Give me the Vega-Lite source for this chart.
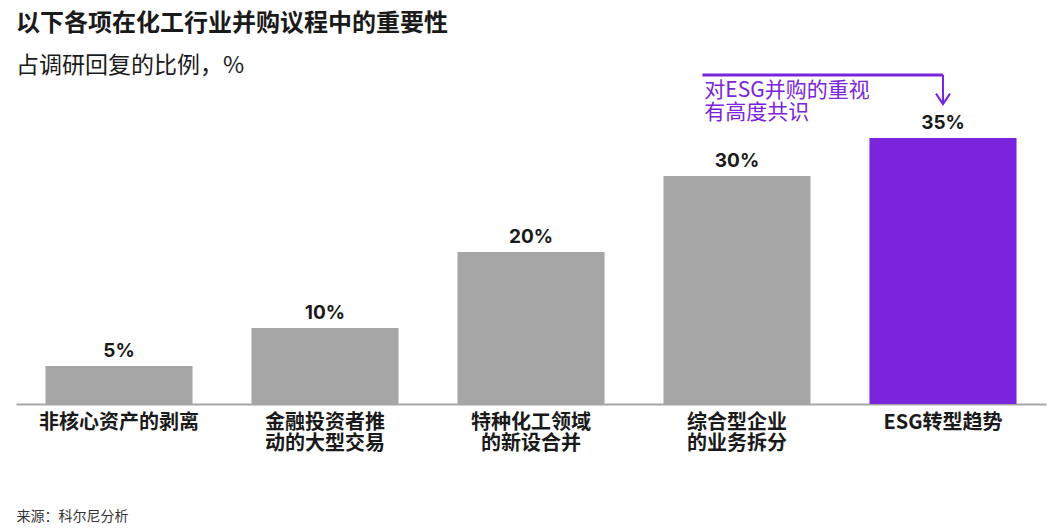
{
  "$schema": "https://vega.github.io/schema/vega-lite/v6.json",
  "width": 1030,
  "height": 304,
  "padding": {"left": 16, "right": 15, "top": 12, "bottom": 5},
  "background": "white",
  "config": {"view": {"stroke": null}, "font": "Noto Sans CJK SC"},
  "title": {
    "text": "以下各项在化工行业并购议程中的重要性",
    "subtitle": "占调研回复的比例，%",
    "anchor": "start",
    "frame": "group",
    "font": "Noto Sans CJK SC",
    "fontSize": 24,
    "fontWeight": "bold",
    "color": "#1a1a1a",
    "subtitleFont": "Noto Sans CJK SC",
    "subtitleFontSize": 23,
    "subtitleColor": "#1a1a1a",
    "subtitlePadding": 19,
    "offset": -5
  },
  "data": {
    "values": [
      {"item": "非核心资产的剥离", "value": 5, "label": "5%", "hl": "no"},
      {"item": "金融投资者推 动的大型交易", "value": 10, "label": "10%", "hl": "no"},
      {"item": "特种化工领域 的新设合并", "value": 20, "label": "20%", "hl": "no"},
      {"item": "综合型企业 的业务拆分", "value": 30, "label": "30%", "hl": "no"},
      {"item": "ESG转型趋势", "value": 35, "label": "35%", "hl": "yes"}
    ]
  },
  "layer": [
    {
      "mark": {"type": "bar"},
      "encoding": {
        "x": {
          "field": "item",
          "type": "nominal",
          "sort": null,
          "scale": {
            "domain": ["非核心资产的剥离", "金融投资者推 动的大型交易", "特种化工领域 的新设合并", "综合型企业 的业务拆分", "ESG转型趋势"],
            "paddingInner": 0.286,
            "paddingOuter": 0.143
          },
          "axis": {
            "title": "来源：科尔尼分析",
            "titleFont": "Noto Sans CJK SC",
            "titleFontSize": 14,
            "titleFontWeight": "normal",
            "titleColor": "#333333",
            "titleAnchor": "start",
            "titleAlign": "left",
            "titleBaseline": "middle",
            "titleX": 0,
            "titleY": 112,
            "labelAngle": 0,
            "labelExpr": "split(datum.label, ' ')",
            "labelFont": "Noto Sans CJK SC",
            "labelFontSize": 20,
            "labelFontWeight": "bold",
            "labelColor": "#1a1a1a",
            "labelLineHeight": 21,
            "labelPadding": 8,
            "labelBaseline": "top",
            "labelOverlap": false,
            "ticks": false,
            "domainColor": "#a6a6a6",
            "domainWidth": 2
          }
        },
        "y": {
          "field": "value",
          "type": "quantitative",
          "scale": {"domain": [0, 40], "nice": false},
          "axis": null
        },
        "color": {
          "field": "hl",
          "type": "nominal",
          "scale": {"domain": ["no", "yes"], "range": ["#a6a6a6", "#7a24dd"]},
          "legend": null
        }
      }
    },
    {
      "mark": {"type": "text", "baseline": "bottom", "dy": -5, "font": "Inter", "fontSize": 19, "fontWeight": "bold", "color": "#1a1a1a"},
      "encoding": {
        "x": {"field": "item", "type": "nominal", "sort": null},
        "y": {"field": "value", "type": "quantitative"},
        "text": {"field": "label"}
      }
    },
    {
      "data": {"values": [{"x1": "综合型企业 的业务拆分", "x2": "ESG转型趋势", "y": 43.3}]},
      "mark": {"type": "rule", "color": "#7a24dd", "strokeWidth": 3},
      "encoding": {
        "x": {"field": "x1", "type": "nominal", "sort": null, "bandPosition": 0.265},
        "x2": {"field": "x2", "bandPosition": 0.5},
        "y": {"field": "y", "type": "quantitative"}
      }
    },
    {
      "data": {"values": [{"x": "ESG转型趋势", "y": 43.3, "y2": 39.5}]},
      "mark": {"type": "rule", "color": "#7a24dd", "strokeWidth": 2},
      "encoding": {
        "x": {"field": "x", "type": "nominal", "sort": null, "bandPosition": 0.5},
        "y": {"field": "y", "type": "quantitative"},
        "y2": {"field": "y2"}
      }
    },
    {
      "data": {"values": [{"x": "ESG转型趋势", "y": 40.2}]},
      "mark": {"type": "point", "shape": "M -1 -0.7 L 0 0.8 L 1 -0.7", "filled": false, "stroke": "#7a24dd", "strokeWidth": 2, "size": 196, "opacity": 1},
      "encoding": {
        "x": {"field": "x", "type": "nominal", "sort": null, "bandPosition": 0.5},
        "y": {"field": "y", "type": "quantitative"}
      }
    },
    {
      "data": {"values": [{"x": "综合型企业 的业务拆分", "y": 42.6}]},
      "mark": {"type": "text", "text": ["对ESG并购的重视", "有高度共识"], "align": "left", "baseline": "top", "lineHeight": 22, "font": "Noto Sans CJK SC", "fontSize": 21, "color": "#7a24dd"},
      "encoding": {
        "x": {"field": "x", "type": "nominal", "sort": null, "bandPosition": 0.278},
        "y": {"field": "y", "type": "quantitative"}
      }
    }
  ]
}
